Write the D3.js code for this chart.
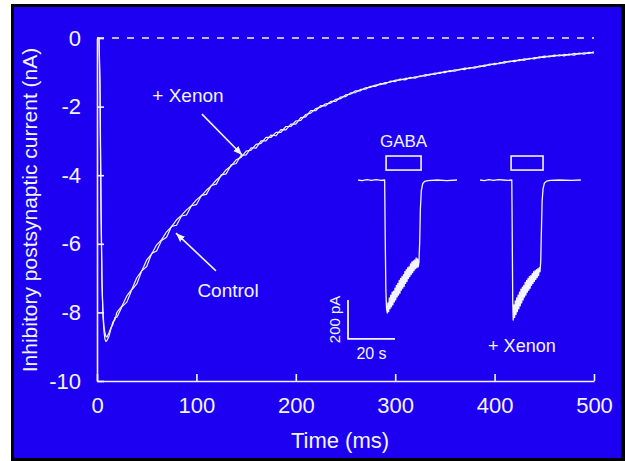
<!DOCTYPE html>
<html><head><meta charset="utf-8">
<script src="https://cdn.jsdelivr.net/npm/d3@7"></script>
<style>html,body{margin:0;padding:0;background:#fff;} svg{display:block;}</style>
</head><body><svg id="chart" width="625" height="461"></svg>
<script>
// ---- main traces (time in ms, current in nA) ----
const timeMs = [0,2,3,4,5,6,7,8,9,10,12,14,16,18,
20,25,30,35,40,45,50,55,60,65,
70,75,80,85,90,95,100,105,110,115,
120,125,130,135,140,145,150,155,160,165,
170,175,180,185,190,195,200,205,210,215,
220,225,230,235,240,245,250,255,260,265,
270,275,280,285,290,295,300,305,310,315,
320,325,330,335,340,345,350,355,360,365,
370,375,380,385,390,395,400,405,410,415,
420,425,430,435,440,445,450,455,460,465,
470,475,480,485,490,495,500];
const controlNA = [0,0,-1.6,-5.0,-7.2,-8.0,-8.4,-8.6,-8.7,-8.72,-8.6,-8.45,-8.35,-8.15,
-8.14,-7.84,-7.70,-7.34,-7.17,-6.79,-6.66,-6.28,-6.21,-5.90,
-5.81,-5.49,-5.46,-5.19,-5.16,-4.89,-4.86,-4.59,-4.56,-4.30,
-4.26,-3.99,-3.96,-3.70,-3.66,-3.42,-3.41,-3.20,-3.21,-3.00,
-3.00,-2.83,-2.85,-2.67,-2.68,-2.51,-2.51,-2.32,-2.30,-2.12,
-2.12,-1.97,-1.98,-1.85,-1.85,-1.72,-1.71,-1.60,-1.59,-1.50,
-1.49,-1.41,-1.41,-1.33,-1.34,-1.26,-1.27,-1.20,-1.22,-1.15,
-1.17,-1.10,-1.11,-1.05,-1.06,-1.00,-1.01,-0.95,-0.97,-0.91,
-0.92,-0.86,-0.88,-0.81,-0.83,-0.76,-0.78,-0.72,-0.73,-0.67,
-0.69,-0.63,-0.65,-0.59,-0.61,-0.55,-0.57,-0.52,-0.54,-0.49,
-0.52,-0.47,-0.50,-0.44,-0.47,-0.42,-0.44];
const xenonNA = [0,0,-1.2,-4.6,-7.0,-8.1,-8.55,-8.78,-8.85,-8.82,-8.7,-8.48,-8.28,-8.22,
-8.00,-7.82,-7.52,-7.33,-6.99,-6.79,-6.47,-6.30,-6.03,-5.88,
-5.65,-5.50,-5.30,-5.17,-5.01,-4.89,-4.72,-4.60,-4.44,-4.31,
-4.14,-4.02,-3.84,-3.73,-3.55,-3.48,-3.30,-3.27,-3.10,-3.07,
-2.90,-2.90,-2.75,-2.75,-2.58,-2.58,-2.42,-2.40,-2.23,-2.19,
-2.06,-2.02,-1.92,-1.90,-1.79,-1.77,-1.66,-1.64,-1.54,-1.54,
-1.45,-1.44,-1.37,-1.36,-1.30,-1.29,-1.23,-1.23,-1.18,-1.18,
-1.13,-1.13,-1.07,-1.08,-1.02,-1.03,-0.97,-0.98,-0.93,-0.93,
-0.88,-0.89,-0.84,-0.84,-0.79,-0.79,-0.74,-0.75,-0.69,-0.70,
-0.65,-0.66,-0.61,-0.62,-0.57,-0.58,-0.53,-0.55,-0.50,-0.52,
-0.48,-0.50,-0.45,-0.47,-0.43,-0.45,-0.40];
const xTicks = [0,100,200,300,400,500];
const yTicks = [0,-2,-4,-6,-8,-10];

// ---- inset traces (time in s, current in pA) ----
const insetCtrlT = [4.3,6,8,10,12,14,15.6,15.8,16.1,16.4,16.7,17.0,17.3,17.6,17.9,18.2,18.5,18.8,19.1,19.4,19.7,20.0,20.3,20.6,20.9,21.2,21.5,21.8,22.1,22.4,22.7,23.0,23.3,23.6,23.9,24.2,24.5,24.8,25.1,25.4,25.7,26.0,26.3,26.6,26.9,27.2,27.5,27.8,28.1,28.4,28.7,29.0,29.3,29.6,29.9,30.2,30.5,30.8,31.2,31.8,32.6,34,38,42,46.4];
const insetCtrlPA = [0,-3,2,-2,2,-2,0,-250,-560,-660,-682,-630,-675,-605,-660,-590,-650,-575,-640,-570,-625,-555,-615,-540,-600,-530,-590,-515,-580,-505,-565,-495,-555,-485,-545,-470,-530,-460,-520,-450,-505,-445,-495,-430,-485,-420,-475,-415,-465,-410,-455,-400,-450,-405,-445,-420,-320,-150,-55,-18,-7,-3,0,-3,0];
const insetXeT = [56.2,58,60,62,64,66,68,69.7,69.9,70.1,70.3,70.6,70.9,71.2,71.5,71.8,72.1,72.4,72.7,73.0,73.3,73.6,73.9,74.2,74.5,74.8,75.1,75.4,75.7,76.0,76.3,76.6,76.9,77.2,77.5,77.8,78.1,78.4,78.7,79.0,79.3,79.6,79.9,80.2,80.5,80.8,81.1,81.4,81.7,82.0,82.3,82.6,83.0,83.6,84.5,86,90,95,99.1];
const insetXePA = [0,-3,2,-2,2,0,-2,0,-300,-620,-718,-640,-705,-620,-690,-605,-675,-590,-660,-575,-645,-560,-630,-550,-615,-540,-600,-525,-590,-515,-575,-505,-565,-495,-555,-490,-540,-480,-530,-470,-520,-465,-510,-460,-500,-455,-490,-450,-470,-420,-260,-110,-45,-15,-6,-2,0,-2,0];
const gabaOn = [[16.2,31.1],[69.4,83.0]];

const svg = d3.select("#chart");
const font = "'Liberation Sans', Arial, Helvetica, sans-serif";
const fg = "#f4f4ff";

svg.append("rect").attr("x",11).attr("y",4).attr("width",614).attr("height",457).attr("fill","#000");
svg.append("rect").attr("x",14).attr("y",7).attr("width",607).attr("height",451).attr("fill","#1d00f2");

const x = d3.scaleLinear().domain([0,500]).range([97,594]);
const y = d3.scaleLinear().domain([-10,0]).range([381,38]);

const defs = svg.append("defs");
defs.append("marker").attr("id","ah").attr("viewBox","0 0 10 10")
  .attr("refX",10).attr("refY",5).attr("markerWidth",9).attr("markerHeight",9)
  .attr("markerUnits","userSpaceOnUse").attr("orient","auto")
  .append("path").attr("d","M0,1 L10,5 L0,9 Z").attr("fill",fg);

// axes
const xAxis = d3.axisBottom(x).tickValues(xTicks).tickSizeInner(-7).tickSizeOuter(0).tickPadding(16).tickFormat(d=>String(d));
const yAxis = d3.axisLeft(y).tickValues(yTicks).tickSizeInner(-7).tickSizeOuter(0).tickPadding(16).tickFormat(d=>String(d));
const gx = svg.append("g").attr("transform",`translate(0,${y(-10)})`).call(xAxis);
const gy = svg.append("g").attr("transform",`translate(${x(0)},0)`).call(yAxis);
[gx,gy].forEach(g=>{
  g.selectAll("path,line").attr("stroke",fg).attr("stroke-width",1.6);
  g.selectAll("text").attr("fill",fg).style("font-family",font).style("font-size","22px");
});

// zero dashed line
svg.append("line").attr("x1",x(0)).attr("x2",x(500)).attr("y1",y(0)).attr("y2",y(0))
  .attr("stroke",fg).attr("stroke-width",1.6).attr("stroke-dasharray","7,8");

// traces
const idx = d3.range(timeMs.length);
const line = (vals)=>d3.line().x(i=>x(timeMs[i])).y(i=>y(vals[i]))(idx);
svg.append("path").attr("d",line(controlNA)).attr("fill","none").attr("stroke",fg).attr("stroke-width",1.2).attr("stroke-linejoin","round");
svg.append("path").attr("d",line(xenonNA)).attr("fill","none").attr("stroke",fg).attr("stroke-width",1.2).attr("stroke-linejoin","round");

// axis titles
svg.append("text").attr("x",340).attr("y",448).attr("text-anchor","middle")
  .attr("fill",fg).style("font-family",font).style("font-size","22px").text("Time (ms)");
svg.append("text").attr("transform","translate(37,210) rotate(-90)").attr("text-anchor","middle")
  .attr("fill",fg).style("font-family",font).style("font-size","21px").text("Inhibitory postsynaptic current (nA)");

// annotations
svg.append("text").attr("x",x(91.5)).attr("y",y(-1.87)).attr("text-anchor","middle")
  .attr("fill",fg).style("font-family",font).style("font-size","19px").text("+ Xenon");
svg.append("line").attr("x1",x(105.6)).attr("y1",y(-2.22)).attr("x2",x(146)).attr("y2",y(-3.41))
  .attr("stroke",fg).attr("stroke-width",1.6).attr("marker-end","url(#ah)");
svg.append("text").attr("x",x(131.8)).attr("y",y(-7.55)).attr("text-anchor","middle")
  .attr("fill",fg).style("font-family",font).style("font-size","19px").text("Control");
svg.append("line").attr("x1",x(119.7)).attr("y1",y(-6.79)).attr("x2",x(79.5)).attr("y2",y(-5.69))
  .attr("stroke",fg).attr("stroke-width",1.6).attr("marker-end","url(#ah)");

// inset
const ix = d3.scaleLinear().domain([0,20]).range([348,395]);
const iy = d3.scaleLinear().domain([0,-200]).range([180,219]);
const iline = (ts,vs)=>d3.line().x(i=>ix(ts[i])).y(i=>iy(vs[i]))(d3.range(ts.length));
svg.append("path").attr("d",iline(insetCtrlT,insetCtrlPA)).attr("fill","none").attr("stroke",fg).attr("stroke-width",1.3).attr("stroke-linejoin","round");
svg.append("path").attr("d",iline(insetXeT,insetXePA)).attr("fill","none").attr("stroke",fg).attr("stroke-width",1.3).attr("stroke-linejoin","round");
svg.selectAll("rect.gaba").data(gabaOn).join("rect").attr("class","gaba")
  .attr("x",d=>ix(d[0])).attr("width",d=>ix(d[1])-ix(d[0]))
  .attr("y",iy(123)).attr("height",iy(51)-iy(123))
  .attr("fill","none").attr("stroke",fg).attr("stroke-width",1.6);
svg.append("text").attr("x",ix((gabaOn[0][0]+gabaOn[0][1])/2)).attr("y",iy(169)).attr("text-anchor","middle")
  .attr("fill",fg).style("font-family",font).style("font-size","17px").text("GABA");
// scale bar
svg.append("path").attr("d",`M${ix(0)},${iy(-615)} L${ix(0)},${iy(-815)} L${ix(20)},${iy(-815)}`)
  .attr("fill","none").attr("stroke",fg).attr("stroke-width",1.8);
svg.append("text").attr("transform",`translate(${ix(-3.4)},${iy(-715)}) rotate(-90)`).attr("text-anchor","middle")
  .attr("fill",fg).style("font-family",font).style("font-size","15px").text("200 pA");
svg.append("text").attr("x",ix(10)).attr("y",iy(-919)).attr("text-anchor","middle")
  .attr("fill",fg).style("font-family",font).style("font-size","16px").text("20 s");
svg.append("text").attr("x",ix(74)).attr("y",iy(-882)).attr("text-anchor","middle")
  .attr("fill",fg).style("font-family",font).style("font-size","18px").text("+ Xenon");
</script></body></html>
